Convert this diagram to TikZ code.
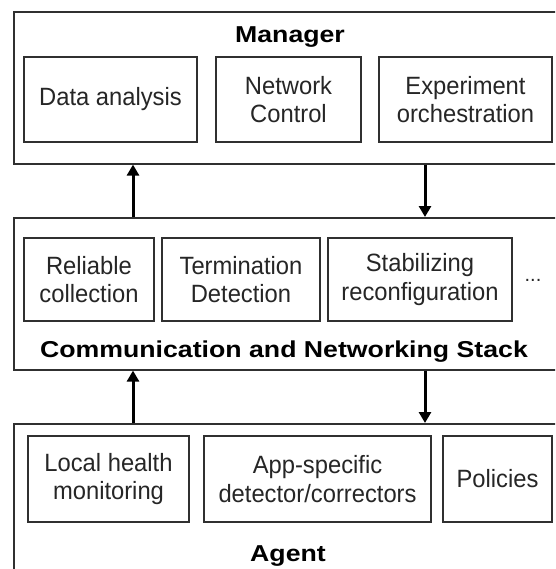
\documentclass[tikz,border=0pt]{standalone}
\usepackage{fontspec}
\setmainfont{Liberation Sans}
\newfontfamily\titlefont[FakeStretch=1.16]{Liberation Sans}
\newfontfamily\boxfont[FakeStretch=0.95]{Liberation Sans}
\usetikzlibrary{arrows.meta}
\definecolor{linecol}{HTML}{303030}
\definecolor{textcol}{HTML}{262626}
\begin{document}
\begin{tikzpicture}[x=1pt,y=-1pt,
  outer/.style={draw=linecol, line width=1.6pt, anchor=north west, inner sep=0pt, minimum width=580pt},
  ibox/.style={draw=linecol, line width=1.5pt, align=center, inner sep=0pt, text=textcol,
    font=\boxfont\fontsize{25}{28.5}\selectfont},
  ttl/.style={font=\titlefont\bfseries\fontsize{23}{27}\selectfont, anchor=base, inner sep=0pt, text=black},
  arr/.style={draw=black, line width=3pt, -{Triangle[width=12pt,length=11pt]}}]
\useasboundingbox (0,0) rectangle (555,569);
\clip (0,0) rectangle (555,569);
\fill[white] (0,0) rectangle (555,569);
% outer layers
\node[outer, minimum height=152pt] (mgr) at (13,11) {};
\node[outer, minimum height=152pt] (stk) at (13,217) {};
\node[outer, minimum height=200pt] (agt) at (13,423) {};
% titles
\node[ttl] (tmgr) at (290,43) {Manager};
\node[ttl] (tstk) at (284,357) {Communication and Networking Stack};
\node[ttl] (tagt) at (288,561) {Agent};
% manager boxes
\node[ibox, minimum width=173pt, minimum height=85pt] (da) at (110.5,99.5) {Data analysis};
\node[ibox, minimum width=145pt, minimum height=85pt] (nc) at (288.5,99.5) {Network\\Control};
\node[ibox, minimum width=173pt, minimum height=85pt] (eo) at (465.5,99.5) {Experiment\\orchestration};
% stack boxes
\node[ibox, minimum width=130pt, minimum height=83pt] (rc) at (89,279.5) {Reliable\\collection};
\node[ibox, minimum width=158pt, minimum height=83pt] (td) at (241,279.5) {Termination\\Detection};
\node[ibox, minimum width=184pt, minimum height=83pt] (sr) at (420,279.5) {Stabilizing\\reconfiguration};
\node[font=\fontsize{20}{24}\selectfont, anchor=base, text=textcol, inner sep=0pt] (dots) at (533,281) {...};
% agent boxes
\node[ibox, minimum width=161pt, minimum height=86pt] (lh) at (108.5,479) {Local health\\monitoring};
\node[ibox, minimum width=227pt, minimum height=86pt] (ap) at (317.5,479) {App-specific\\detector/correctors};
\node[ibox, minimum width=109pt, minimum height=86pt] (po) at (497.5,479) {Policies};
% connectors
\coordinate (ax1) at (133,0);
\coordinate (ax2) at (425,0);
\draw[arr] (ax1 |- stk.north) -- (ax1 |- mgr.south);
\draw[arr] (ax2 |- mgr.south) -- (ax2 |- stk.north);
\draw[arr] (ax1 |- agt.north) -- (ax1 |- stk.south);
\draw[arr] (ax2 |- stk.south) -- (ax2 |- agt.north);
\end{tikzpicture}
\end{document}
